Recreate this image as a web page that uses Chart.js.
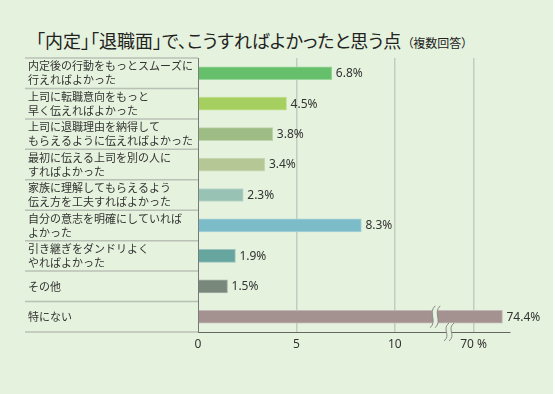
<!DOCTYPE html>
<html><head><meta charset="utf-8">
<script src="https://cdn.jsdelivr.net/npm/chart.js@4/dist/chart.umd.min.js"></script>
<style>
html,body{margin:0;padding:0;background:#fff;}
#wrap{position:relative;width:553px;height:394px;background:#e5f2dd;}
#title{position:absolute;left:36px;top:28px;font-family:"Noto Sans CJK JP";font-size:18px;color:#222;white-space:nowrap;line-height:25px;font-feature-settings:"palt";}
#title small{font-size:12px;margin-left:6px;}
canvas{position:absolute;left:0;top:0;}
</style></head><body>
<div id="wrap"><div id="title">「内定」「退職面」で、こうすればよかったと思う点<small>（複数回答）</small></div><canvas id="c" width="555" height="394"></canvas></div>
<script>
const categories = [
  ["内定後の行動をもっとスムーズに","行えればよかった"],
  ["上司に転職意向をもっと","早く伝えればよかった"],
  ["上司に退職理由を納得して","もらえるように伝えればよかった"],
  ["最初に伝える上司を別の人に","すればよかった"],
  ["家族に理解してもらえるよう","伝え方を工夫すればよかった"],
  ["自分の意志を明確にしていれば","よかった"],
  ["引き継ぎをダンドリよく","やればよかった"],
  "その他",
  "特にない"
];
const values = [6.8, 4.5, 3.8, 3.4, 2.3, 8.3, 1.9, 1.5, 74.4];
const tickValues = [0, 5, 10, 70];
const tickLabels = ["0", "5", "10", "70 %"];
const barColors = ["#66bf6a","#a5cf5e","#9dbd85","#b4c795","#98c2b4","#7bbcc8","#66a69f","#78887a","#a39290"];

// broken axis: 0-10 linear, then jump so that 70 sits at 14, compressed above
function toAxis(v){ return v <= 10 ? v : 14 + (v - 70) / 3; }
function lighten(hex, f){
  const n = parseInt(hex.slice(1),16);
  const r=(n>>16)&255,g=(n>>8)&255,b=n&255;
  const m=c=>Math.round(c+(255-c)*f);
  return `rgb(${m(r)},${m(g)},${m(b)})`;
}
const BG = "#e5f2dd";

const deco = {
  id:'deco',
  afterDraw(chart){
    const ctx = chart.ctx, ca = chart.chartArea, ys = chart.scales.y, xs = chart.scales.x;
    const n = categories.length;
    ctx.save();
    ctx.strokeStyle = "#b9c0b6"; ctx.lineWidth = 1.5;
    for(let i=0;i<=n;i++){
      let y;
      if(i===0) y = ca.top; else if(i===n) y = ca.bottom;
      else y = (ys.getPixelForValue(i-1)+ys.getPixelForValue(i))/2;
      ctx.beginPath(); ctx.moveTo(25,y); ctx.lineTo(ca.left,y); ctx.stroke();
    }
    const meta = chart.getDatasetMeta(0);
    ctx.fillStyle = "#333"; ctx.font = '12px "Noto Sans"';
    ctx.textBaseline = "middle"; ctx.textAlign = "left";
    meta.data.forEach((bar,i)=>{
      ctx.fillText(values[i].toFixed(1)+"%", bar.x+4, bar.y+0.5);
    });
    function brk(cx, cy, h){
      const s = (dx)=>{
        ctx.moveTo(cx+dx+2.5, cy-h/2);
        ctx.bezierCurveTo(cx+dx-5, cy-h/6, cx+dx+5, cy+h/6, cx+dx-2.5, cy+h/2);
      };
      ctx.beginPath();
      ctx.moveTo(cx-2.5+2.5, cy-h/2);
      ctx.bezierCurveTo(cx-2.5-5, cy-h/6, cx-2.5+5, cy+h/6, cx-2.5-2.5, cy+h/2);
      ctx.lineTo(cx+2.5-2.5, cy+h/2);
      ctx.bezierCurveTo(cx+2.5+5, cy+h/6, cx+2.5-5, cy-h/6, cx+2.5+2.5, cy-h/2);
      ctx.closePath();
      ctx.fillStyle = BG; ctx.fill();
      ctx.beginPath(); s(-2.5); s(2.5);
      ctx.strokeStyle = "#8a8a8a"; ctx.lineWidth = 1; ctx.stroke();
    }
    const last = meta.data[n-1];
    brk(xs.getPixelForValue(12.05), last.y, 22);
    brk(xs.getPixelForValue(12.75), ca.bottom, 18);
    ctx.restore();
  }
};

new Chart(document.getElementById('c'), {
  type:'bar',
  data:{
    labels: categories,
    datasets:[{
      data: values.map(toAxis),
      backgroundColor: barColors,
      borderColor: barColors.map(c=>lighten(c,0.35)),
      borderWidth: 1,
      barThickness: 13
    }]
  },
  options:{
    indexAxis:'y',
    responsive:false,
    animation:false,
    devicePixelRatio:1,
    layout:{padding:{left:28, top:58, right:45, bottom:32}},
    plugins:{legend:{display:false}, tooltip:{enabled:false}},
    scales:{
      x:{
        type:'linear', min:0, max:15.85,
        afterBuildTicks(s){ s.ticks = tickValues.map(v=>({value:toAxis(v)})); },
        afterFit(s){ s.height = 30; },
        ticks:{
          callback:(v,i)=>tickLabels[i],
          color:"#333", font:{family:"Noto Sans", size:12}, padding:5, maxRotation:0
        },
        grid:{
          drawTicks:false, lineWidth:1.5,
          color:(c)=> (c.tick && c.tick.value===0) ? 'rgba(0,0,0,0)' : '#c3ccc1'
        },
        border:{display:true, color:'#666', width:1}
      },
      y:{
        type:'category',
        afterFit(s){ s.width = 170; },
        ticks:{
          crossAlign:'far', color:"#333", autoSkip:false,
          font:{family:"Noto Sans CJK JP", size:11, lineHeight:1.27}
        },
        grid:{display:false},
        border:{display:true, color:'#777', width:1}
      }
    }
  },
  plugins:[deco]
});
</script>
</body></html>
